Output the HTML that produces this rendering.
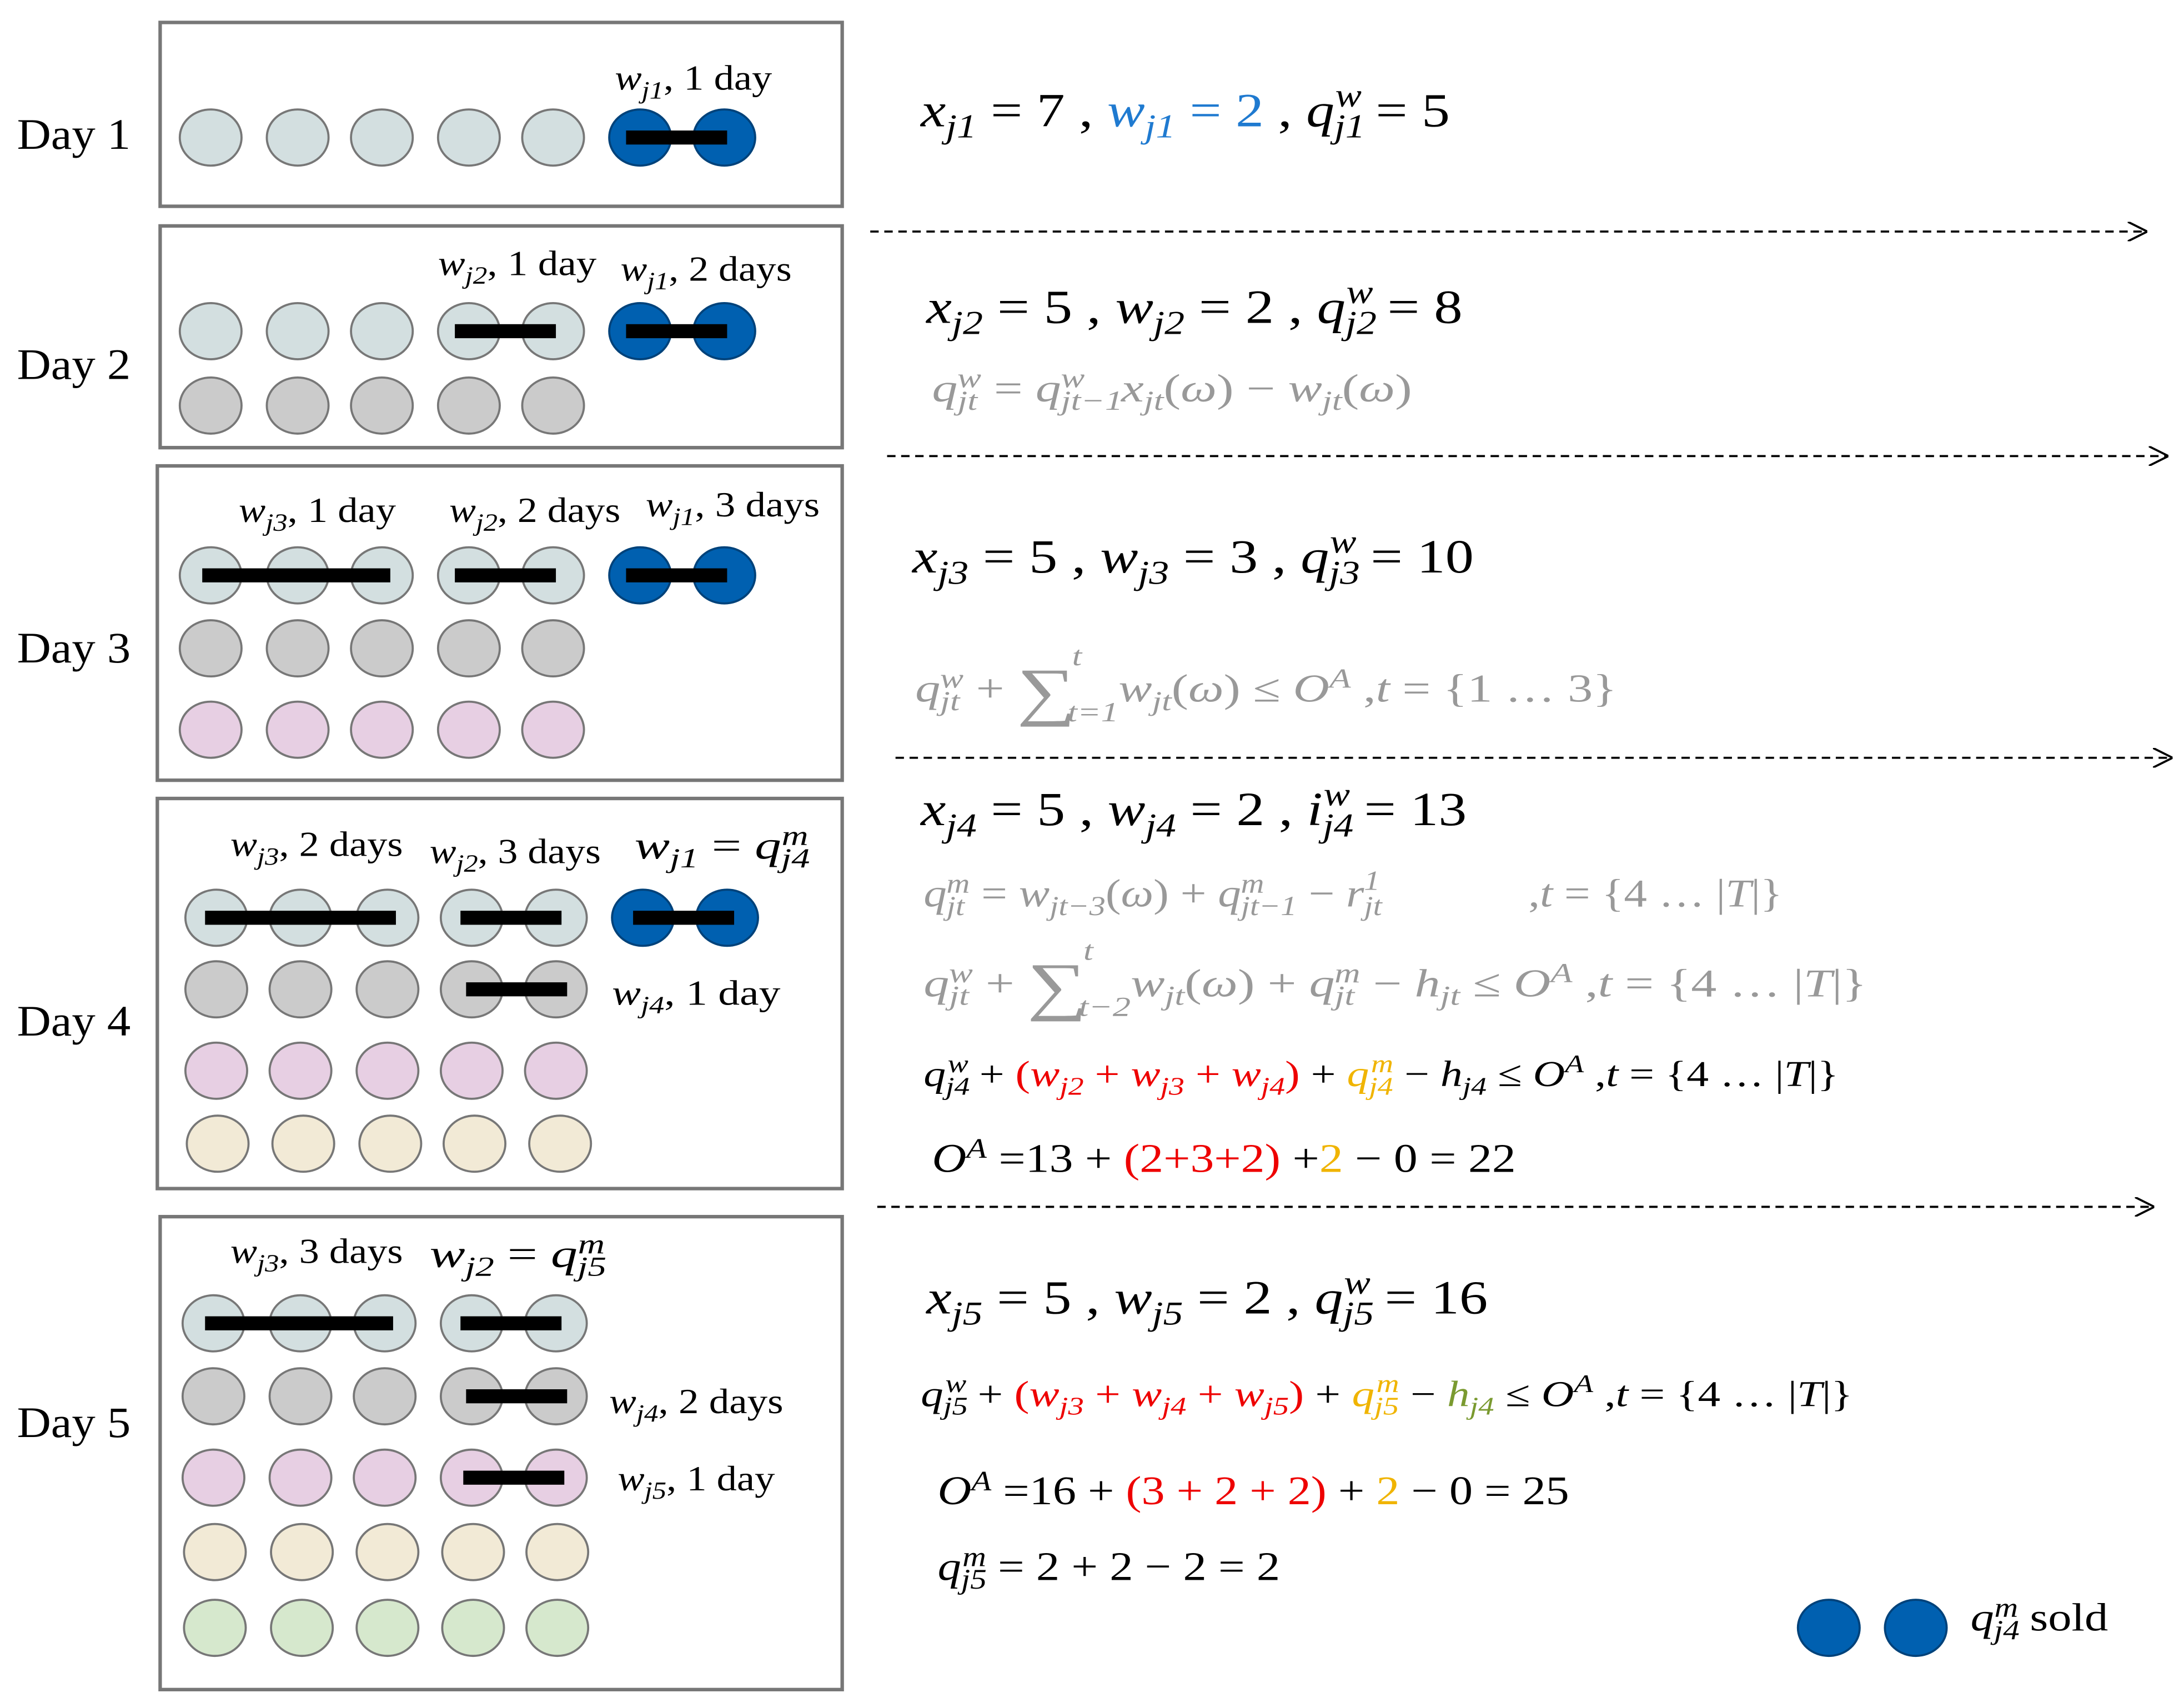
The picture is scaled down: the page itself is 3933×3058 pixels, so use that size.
<!DOCTYPE html>
<html><head><meta charset="utf-8"><style>
html,body{margin:0;padding:0;background:#fff}
svg{display:block}
text{font-family:"Liberation Serif",serif}
.i{font-style:italic}
.s{font-size:70%}
</style></head><body>
<svg width="3933" height="3058" viewBox="0 0 1556 1210" xmlns="http://www.w3.org/2000/svg">
<defs>
<marker id="ar" markerWidth="14" markerHeight="14" refX="14" refY="7" orient="auto" markerUnits="userSpaceOnUse"><path d="M0,0 L14,7 L0,14" fill="none" stroke="#000" stroke-width="1.5"/></marker>
</defs>
<g fill="none" stroke="#777" stroke-width="2.5">
<rect x="114" y="16" width="486" height="131"/>
<rect x="114" y="161" width="486" height="158"/>
<rect x="112" y="332" width="488" height="224"/>
<rect x="112" y="569" width="488" height="278"/>
<rect x="114" y="867" width="486" height="337"/>
</g>
<g font-size="31" fill="#000">
<text x="12" y="106" textLength="81" lengthAdjust="spacingAndGlyphs">Day 1</text>
<text x="12" y="270" textLength="81" lengthAdjust="spacingAndGlyphs">Day 2</text>
<text x="12" y="472" textLength="81" lengthAdjust="spacingAndGlyphs">Day 3</text>
<text x="12" y="738" textLength="81" lengthAdjust="spacingAndGlyphs">Day 4</text>
<text x="12" y="1024" textLength="81" lengthAdjust="spacingAndGlyphs">Day 5</text>
</g>
<g stroke="#777" stroke-width="1.5">
<g fill="#d3dfe0"><ellipse cx="150" cy="98" rx="22" ry="20"/><ellipse cx="212" cy="98" rx="22" ry="20"/><ellipse cx="272" cy="98" rx="22" ry="20"/><ellipse cx="334" cy="98" rx="22" ry="20"/><ellipse cx="394" cy="98" rx="22" ry="20"/></g>
<g fill="#0060b0" stroke="#00427a"><ellipse cx="456" cy="98" rx="22" ry="20"/><ellipse cx="516" cy="98" rx="22" ry="20"/></g>
<g fill="#d3dfe0"><ellipse cx="150" cy="236" rx="22" ry="20"/><ellipse cx="212" cy="236" rx="22" ry="20"/><ellipse cx="272" cy="236" rx="22" ry="20"/><ellipse cx="334" cy="236" rx="22" ry="20"/><ellipse cx="394" cy="236" rx="22" ry="20"/></g>
<g fill="#0060b0" stroke="#00427a"><ellipse cx="456" cy="236" rx="22" ry="20"/><ellipse cx="516" cy="236" rx="22" ry="20"/></g>
<g fill="#cbcbcb"><ellipse cx="150" cy="289" rx="22" ry="20"/><ellipse cx="212" cy="289" rx="22" ry="20"/><ellipse cx="272" cy="289" rx="22" ry="20"/><ellipse cx="334" cy="289" rx="22" ry="20"/><ellipse cx="394" cy="289" rx="22" ry="20"/></g>
<g fill="#d3dfe0"><ellipse cx="150" cy="410" rx="22" ry="20"/><ellipse cx="212" cy="410" rx="22" ry="20"/><ellipse cx="272" cy="410" rx="22" ry="20"/><ellipse cx="334" cy="410" rx="22" ry="20"/><ellipse cx="394" cy="410" rx="22" ry="20"/></g>
<g fill="#0060b0" stroke="#00427a"><ellipse cx="456" cy="410" rx="22" ry="20"/><ellipse cx="516" cy="410" rx="22" ry="20"/></g>
<g fill="#cbcbcb"><ellipse cx="150" cy="462" rx="22" ry="20"/><ellipse cx="212" cy="462" rx="22" ry="20"/><ellipse cx="272" cy="462" rx="22" ry="20"/><ellipse cx="334" cy="462" rx="22" ry="20"/><ellipse cx="394" cy="462" rx="22" ry="20"/></g>
<g fill="#e7cfe3"><ellipse cx="150" cy="520" rx="22" ry="20"/><ellipse cx="212" cy="520" rx="22" ry="20"/><ellipse cx="272" cy="520" rx="22" ry="20"/><ellipse cx="334" cy="520" rx="22" ry="20"/><ellipse cx="394" cy="520" rx="22" ry="20"/></g>
<g fill="#d3dfe0"><ellipse cx="154" cy="654" rx="22" ry="20"/><ellipse cx="214" cy="654" rx="22" ry="20"/><ellipse cx="276" cy="654" rx="22" ry="20"/><ellipse cx="336" cy="654" rx="22" ry="20"/><ellipse cx="396" cy="654" rx="22" ry="20"/></g>
<g fill="#0060b0" stroke="#00427a"><ellipse cx="458" cy="654" rx="22" ry="20"/><ellipse cx="518" cy="654" rx="22" ry="20"/></g>
<g fill="#cbcbcb"><ellipse cx="154" cy="705" rx="22" ry="20"/><ellipse cx="214" cy="705" rx="22" ry="20"/><ellipse cx="276" cy="705" rx="22" ry="20"/><ellipse cx="336" cy="705" rx="22" ry="20"/><ellipse cx="396" cy="705" rx="22" ry="20"/></g>
<g fill="#e7cfe3"><ellipse cx="154" cy="763" rx="22" ry="20"/><ellipse cx="214" cy="763" rx="22" ry="20"/><ellipse cx="276" cy="763" rx="22" ry="20"/><ellipse cx="336" cy="763" rx="22" ry="20"/><ellipse cx="396" cy="763" rx="22" ry="20"/></g>
<g fill="#f2ead6"><ellipse cx="155" cy="815" rx="22" ry="20"/><ellipse cx="216" cy="815" rx="22" ry="20"/><ellipse cx="278" cy="815" rx="22" ry="20"/><ellipse cx="338" cy="815" rx="22" ry="20"/><ellipse cx="399" cy="815" rx="22" ry="20"/></g>
<g fill="#d3dfe0"><ellipse cx="152" cy="943" rx="22" ry="20"/><ellipse cx="214" cy="943" rx="22" ry="20"/><ellipse cx="274" cy="943" rx="22" ry="20"/><ellipse cx="336" cy="943" rx="22" ry="20"/><ellipse cx="396" cy="943" rx="22" ry="20"/></g>
<g fill="#cbcbcb"><ellipse cx="152" cy="995" rx="22" ry="20"/><ellipse cx="214" cy="995" rx="22" ry="20"/><ellipse cx="274" cy="995" rx="22" ry="20"/><ellipse cx="336" cy="995" rx="22" ry="20"/><ellipse cx="396" cy="995" rx="22" ry="20"/></g>
<g fill="#e7cfe3"><ellipse cx="152" cy="1053" rx="22" ry="20"/><ellipse cx="214" cy="1053" rx="22" ry="20"/><ellipse cx="274" cy="1053" rx="22" ry="20"/><ellipse cx="336" cy="1053" rx="22" ry="20"/><ellipse cx="396" cy="1053" rx="22" ry="20"/></g>
<g fill="#f2ead6"><ellipse cx="153" cy="1106" rx="22" ry="20"/><ellipse cx="215" cy="1106" rx="22" ry="20"/><ellipse cx="276" cy="1106" rx="22" ry="20"/><ellipse cx="337" cy="1106" rx="22" ry="20"/><ellipse cx="397" cy="1106" rx="22" ry="20"/></g>
<g fill="#d6e8cd"><ellipse cx="153" cy="1160" rx="22" ry="20"/><ellipse cx="215" cy="1160" rx="22" ry="20"/><ellipse cx="276" cy="1160" rx="22" ry="20"/><ellipse cx="337" cy="1160" rx="22" ry="20"/><ellipse cx="397" cy="1160" rx="22" ry="20"/></g>
<g fill="#0060b0" stroke="#00427a"><ellipse cx="1303" cy="1160" rx="22" ry="20"/><ellipse cx="1365" cy="1160" rx="22" ry="20"/></g>
</g>
<g fill="#000">
<rect x="446" y="93" width="72" height="10"/>
<rect x="324" y="231" width="72" height="10"/>
<rect x="446" y="231" width="72" height="10"/>
<rect x="144" y="405" width="134" height="10"/>
<rect x="324" y="405" width="72" height="10"/>
<rect x="446" y="405" width="72" height="10"/>
<rect x="146" y="649" width="136" height="10"/>
<rect x="328" y="649" width="72" height="10"/>
<rect x="451" y="649" width="72" height="10"/>
<rect x="332" y="700" width="72" height="10"/>
<rect x="146" y="938" width="134" height="10"/>
<rect x="328" y="938" width="72" height="10"/>
<rect x="332" y="990" width="72" height="10"/>
<rect x="330" y="1048" width="72" height="10"/>
</g>
<g font-size="25" fill="#000" lengthAdjust="spacingAndGlyphs">
<text x="438" y="64" textLength="112" lengthAdjust="spacingAndGlyphs"><tspan class="i">w</tspan><tspan class="i s" dy="6">j1</tspan><tspan dy="-6">, 1 day</tspan></text>
<text x="312" y="196" textLength="113" lengthAdjust="spacingAndGlyphs"><tspan class="i">w</tspan><tspan class="i s" dy="6">j2</tspan><tspan dy="-6">, 1 day</tspan></text>
<text x="442" y="200" textLength="122" lengthAdjust="spacingAndGlyphs"><tspan class="i">w</tspan><tspan class="i s" dy="6">j1</tspan><tspan dy="-6">, 2 days</tspan></text>
<text x="170" y="372" textLength="112" lengthAdjust="spacingAndGlyphs"><tspan class="i">w</tspan><tspan class="i s" dy="6">j3</tspan><tspan dy="-6">, 1 day</tspan></text>
<text x="320" y="372" textLength="122" lengthAdjust="spacingAndGlyphs"><tspan class="i">w</tspan><tspan class="i s" dy="6">j2</tspan><tspan dy="-6">, 2 days</tspan></text>
<text x="460" y="368" textLength="124" lengthAdjust="spacingAndGlyphs"><tspan class="i">w</tspan><tspan class="i s" dy="6">j1</tspan><tspan dy="-6">, 3 days</tspan></text>
<text x="164" y="610" textLength="123" lengthAdjust="spacingAndGlyphs"><tspan class="i">w</tspan><tspan class="i s" dy="6">j3</tspan><tspan dy="-6">, 2 days</tspan></text>
<text x="306" y="615" textLength="122" lengthAdjust="spacingAndGlyphs"><tspan class="i">w</tspan><tspan class="i s" dy="6">j2</tspan><tspan dy="-6">, 3 days</tspan></text>
<text x="452" y="612" font-size="28" textLength="125" lengthAdjust="spacingAndGlyphs"><tspan class="i">w</tspan><tspan class="i s" dy="6">j1</tspan><tspan dy="-6">  =   </tspan><tspan class="i">q</tspan><tspan class="i s" dy="6">j4</tspan><tspan class="i s" dx="-15" dy="-16">m</tspan></text>
<text x="436" y="716" textLength="120" lengthAdjust="spacingAndGlyphs"><tspan class="i">w</tspan><tspan class="i s" dy="6">j4</tspan><tspan dy="-6">, 1 day</tspan></text>
<text x="164" y="900" textLength="123" lengthAdjust="spacingAndGlyphs"><tspan class="i">w</tspan><tspan class="i s" dy="6">j3</tspan><tspan dy="-6">, 3 days</tspan></text>
<text x="306" y="903" font-size="28" textLength="126" lengthAdjust="spacingAndGlyphs"><tspan class="i">w</tspan><tspan class="i s" dy="6">j2</tspan><tspan dy="-6">  =   </tspan><tspan class="i">q</tspan><tspan class="i s" dy="6">j5</tspan><tspan class="i s" dx="-15" dy="-16">m</tspan></text>
<text x="434" y="1007" textLength="124" lengthAdjust="spacingAndGlyphs"><tspan class="i">w</tspan><tspan class="i s" dy="6">j4</tspan><tspan dy="-6">, 2 days</tspan></text>
<text x="440" y="1062" textLength="112" lengthAdjust="spacingAndGlyphs"><tspan class="i">w</tspan><tspan class="i s" dy="6">j5</tspan><tspan dy="-6">, 1 day</tspan></text>
<text x="1404" y="1162" font-size="28" textLength="98" lengthAdjust="spacingAndGlyphs"><tspan class="i">q</tspan><tspan class="i s" dy="6">j4</tspan><tspan class="i s" dx="-15" dy="-16">m</tspan><tspan dy="10"> sold</tspan></text>
</g>
<g stroke="#000" stroke-width="1.5" stroke-dasharray="6,4" marker-end="url(#ar)">
<line x1="620" y1="165" x2="1530" y2="165"/>
<line x1="632" y1="325" x2="1545" y2="325"/>
<line x1="638" y1="540" x2="1548" y2="540"/>
<line x1="625" y1="860" x2="1535" y2="860"/>
</g>
<g font-size="34" fill="#000">
<text x="656" y="90" textLength="377" lengthAdjust="spacingAndGlyphs"><tspan class="i">x</tspan><tspan class="i s" dy="8">j1</tspan><tspan dy="-8"> = 7 , </tspan><tspan fill="#1f7ad0"><tspan class="i">w</tspan><tspan class="i s" dy="8">j1</tspan><tspan dy="-8"> = 2</tspan></tspan><tspan> , </tspan><tspan class="i">q</tspan><tspan class="i s" dy="8">j1</tspan><tspan class="i s" dx="-18" dy="-22">w</tspan><tspan dy="14"> = 5</tspan></text>
<text x="660" y="230" textLength="382" lengthAdjust="spacingAndGlyphs"><tspan class="i">x</tspan><tspan class="i s" dy="8">j2</tspan><tspan dy="-8"> = 5 , </tspan><tspan class="i">w</tspan><tspan class="i s" dy="8">j2</tspan><tspan dy="-8"> = 2 , </tspan><tspan class="i">q</tspan><tspan class="i s" dy="8">j2</tspan><tspan class="i s" dx="-18" dy="-22">w</tspan><tspan dy="14"> = 8</tspan></text>
<text x="650" y="408" textLength="400" lengthAdjust="spacingAndGlyphs"><tspan class="i">x</tspan><tspan class="i s" dy="8">j3</tspan><tspan dy="-8"> = 5 , </tspan><tspan class="i">w</tspan><tspan class="i s" dy="8">j3</tspan><tspan dy="-8"> = 3 , </tspan><tspan class="i">q</tspan><tspan class="i s" dy="8">j3</tspan><tspan class="i s" dx="-18" dy="-22">w</tspan><tspan dy="14"> = 10</tspan></text>
<text x="656" y="588" textLength="389" lengthAdjust="spacingAndGlyphs"><tspan class="i">x</tspan><tspan class="i s" dy="8">j4</tspan><tspan dy="-8"> = 5 , </tspan><tspan class="i">w</tspan><tspan class="i s" dy="8">j4</tspan><tspan dy="-8"> = 2 , </tspan><tspan class="i">i</tspan><tspan class="i s" dy="8">j4</tspan><tspan class="i s" dx="-18" dy="-22">w</tspan><tspan dy="14"> = 13</tspan></text>
<text x="660" y="936" textLength="400" lengthAdjust="spacingAndGlyphs"><tspan class="i">x</tspan><tspan class="i s" dy="8">j5</tspan><tspan dy="-8"> = 5 , </tspan><tspan class="i">w</tspan><tspan class="i s" dy="8">j5</tspan><tspan dy="-8"> = 2 , </tspan><tspan class="i">q</tspan><tspan class="i s" dy="8">j5</tspan><tspan class="i s" dx="-18" dy="-22">w</tspan><tspan dy="14"> = 16</tspan></text>
</g>
<g font-size="28" fill="#999" class="i">
<text x="664" y="286" textLength="342" lengthAdjust="spacingAndGlyphs">q<tspan class="s" dy="6">jt</tspan><tspan class="s" dx="-11" dy="-16">w</tspan><tspan dy="10" font-style="normal"> = </tspan>q<tspan class="s" dy="6">jt−1</tspan><tspan class="s" dx="-34" dy="-16">w</tspan><tspan dx="20" dy="10">x</tspan><tspan class="s" dy="6">jt</tspan><tspan dy="-6" font-style="normal">(</tspan>ω<tspan font-style="normal">) − </tspan>w<tspan class="s" dy="6">jt</tspan><tspan dy="-6" font-style="normal">(</tspan>ω<tspan font-style="normal">)</tspan></text>
<text x="652" y="500" textLength="500" lengthAdjust="spacingAndGlyphs">q<tspan class="s" dy="6">jt</tspan><tspan class="s" dx="-11" dy="-16">w</tspan><tspan dy="10" font-style="normal"> + </tspan><tspan font-style="normal" font-size="46" dy="8">∑</tspan><tspan class="s" dy="-34" dx="-2">t</tspan><tspan class="s" dy="40" dx="-8">t=1</tspan><tspan dy="-14">w</tspan><tspan class="s" dy="6">jt</tspan><tspan dy="-6" font-style="normal">(</tspan>ω<tspan font-style="normal">) ≤  </tspan>O<tspan class="s" dy="-10">A</tspan><tspan dy="10" font-style="normal">     ,</tspan>t<tspan font-style="normal"> = {1 … 3}</tspan></text>
<text x="658" y="646" textLength="612" lengthAdjust="spacingAndGlyphs">q<tspan class="s" dy="6">jt</tspan><tspan class="s" dx="-11" dy="-16">m</tspan><tspan dy="10" font-style="normal"> = </tspan>w<tspan class="s" dy="6">jt−3</tspan><tspan dy="-6" font-style="normal">(</tspan>ω<tspan font-style="normal">) + </tspan>q<tspan class="s" dy="6">jt−1</tspan><tspan class="s" dx="-34" dy="-16">m</tspan><tspan dx="20" dy="10" font-style="normal"> − </tspan>r<tspan class="s" dy="6">jt</tspan><tspan class="s" dx="-11" dy="-18">1</tspan><tspan dy="12" dx="90" font-style="normal">,</tspan>t<tspan font-style="normal"> = {4 … |</tspan>T<tspan font-style="normal">|}</tspan></text>
<text x="658" y="710" textLength="672" lengthAdjust="spacingAndGlyphs">q<tspan class="s" dy="6">jt</tspan><tspan class="s" dx="-11" dy="-16">w</tspan><tspan dy="10" font-style="normal"> + </tspan><tspan font-style="normal" font-size="46" dy="8">∑</tspan><tspan class="s" dy="-34" dx="-2">t</tspan><tspan class="s" dy="40" dx="-8">t−2</tspan><tspan dy="-14">w</tspan><tspan class="s" dy="6">jt</tspan><tspan dy="-6" font-style="normal">(</tspan>ω<tspan font-style="normal">) +  </tspan>q<tspan class="s" dy="6">jt</tspan><tspan class="s" dx="-11" dy="-16">m</tspan><tspan dy="10" font-style="normal"> − </tspan>h<tspan class="s" dy="6">jt</tspan><tspan dy="-6" font-style="normal"> ≤  </tspan>O<tspan class="s" dy="-10">A</tspan><tspan dy="10" font-style="normal">     ,</tspan>t<tspan font-style="normal"> = {4 … |</tspan>T<tspan font-style="normal">|}</tspan></text>
</g>
<g font-size="26" fill="#000">
<text x="658" y="774" textLength="652" lengthAdjust="spacingAndGlyphs"><tspan class="i">q</tspan><tspan class="i s" dy="6">j4</tspan><tspan class="i s" dx="-13" dy="-16">w</tspan><tspan dy="10"> + </tspan><tspan fill="#e00">(<tspan class="i">w</tspan><tspan class="i s" dy="6">j2</tspan><tspan dy="-6"> + </tspan><tspan class="i">w</tspan><tspan class="i s" dy="6">j3</tspan><tspan dy="-6"> + </tspan><tspan class="i">w</tspan><tspan class="i s" dy="6">j4</tspan><tspan dy="-6">)</tspan></tspan><tspan>  +  </tspan><tspan fill="#f0b400"><tspan class="i">q</tspan><tspan class="i s" dy="6">j4</tspan><tspan class="i s" dx="-13" dy="-16">m</tspan></tspan><tspan dy="10"> − </tspan><tspan class="i">h</tspan><tspan class="i s" dy="6">j4</tspan><tspan dy="-6"> ≤ </tspan><tspan class="i">O</tspan><tspan class="i s" dy="-10">A</tspan><tspan dy="10">     ,</tspan><tspan class="i">t</tspan> = {4 … |<tspan class="i">T</tspan>|}</text>
<text x="664" y="835" font-size="29" textLength="416" lengthAdjust="spacingAndGlyphs"><tspan class="i">O</tspan><tspan class="i s" dy="-10">A</tspan><tspan dy="10"> =13 + </tspan><tspan fill="#e00">(2+3+2)</tspan> +<tspan fill="#f0b400">2</tspan> − 0 = 22</text>
<text x="656" y="1002" textLength="664" lengthAdjust="spacingAndGlyphs"><tspan class="i">q</tspan><tspan class="i s" dy="6">j5</tspan><tspan class="i s" dx="-13" dy="-16">w</tspan><tspan dy="10"> + </tspan><tspan fill="#e00">(<tspan class="i">w</tspan><tspan class="i s" dy="6">j3</tspan><tspan dy="-6"> + </tspan><tspan class="i">w</tspan><tspan class="i s" dy="6">j4</tspan><tspan dy="-6">  + </tspan><tspan class="i">w</tspan><tspan class="i s" dy="6">j5</tspan><tspan dy="-6">)</tspan></tspan><tspan>  +  </tspan><tspan fill="#f0b400"><tspan class="i">q</tspan><tspan class="i s" dy="6">j5</tspan><tspan class="i s" dx="-13" dy="-16">m</tspan></tspan><tspan dy="10">  − </tspan><tspan fill="#7a9a30"><tspan class="i">h</tspan><tspan class="i s" dy="6">j4</tspan></tspan><tspan dy="-6"> ≤ </tspan><tspan class="i">O</tspan><tspan class="i s" dy="-10">A</tspan><tspan dy="10">     ,</tspan><tspan class="i">t</tspan> = {4 … |<tspan class="i">T</tspan>|}</text>
<text x="668" y="1072" font-size="29" textLength="450" lengthAdjust="spacingAndGlyphs"><tspan class="i">O</tspan><tspan class="i s" dy="-10">A</tspan><tspan dy="10"> =16 + </tspan><tspan fill="#e00">(3 + 2 + 2)</tspan> + <tspan fill="#f0b400">2</tspan> − 0 = 25</text>
<text x="668" y="1126" font-size="29" textLength="244" lengthAdjust="spacingAndGlyphs"><tspan class="i">q</tspan><tspan class="i s" dy="6">j5</tspan><tspan class="i s" dx="-15" dy="-16">m</tspan><tspan dy="10"> = 2 + 2 − 2 = 2</tspan></text>
</g>
</svg>
</body></html>
